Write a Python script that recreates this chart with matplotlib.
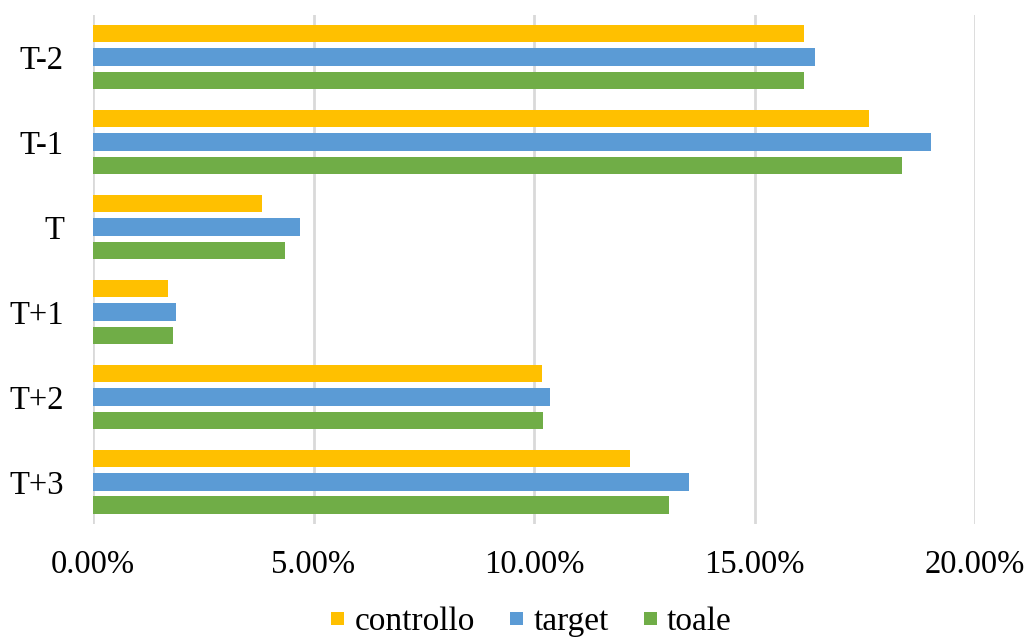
import matplotlib.pyplot as plt
import numpy as np
from matplotlib.ticker import FuncFormatter

# Periodi e valori percentuali per gruppo
periodi = ['T-2', 'T-1', 'T', 'T+1', 'T+2', 'T+3']
controllo = [16.13, 17.59, 3.83, 1.69, 10.18, 12.17]
target = [16.38, 19.01, 4.70, 1.88, 10.36, 13.51]
toale = [16.13, 18.35, 4.35, 1.81, 10.21, 13.07]

plt.rcParams['font.family'] = ['Liberation Serif', 'DejaVu Serif']

fig = plt.figure(figsize=(10.27, 6.37), dpi=100)
ax = fig.add_axes([0.0906, 0.177, 0.8588, 0.800])

y = np.arange(len(periodi))
passo = 0.276
altezza = 0.206

ax.barh(y - passo, controllo, height=altezza, color='#FFC000', label='controllo', zorder=3)
ax.barh(y, target, height=altezza, color='#5B9BD5', label='target', zorder=3)
ax.barh(y + passo, toale, height=altezza, color='#70AD47', label='toale', zorder=3)

ax.set_xlim(0, 20)
ax.set_ylim(len(periodi) - 0.5, -0.5)
ax.set_xticks([0, 5, 10, 15, 20])
ax.xaxis.set_major_formatter(FuncFormatter(lambda v, p: f'{v:.2f}%'))
ax.set_yticks(y)
ax.set_yticklabels(periodi)

# Griglia verticale grigia chiara, senza bordi
ax.grid(axis='x', color='#D9D9D9', linewidth=2, zorder=0)
for s in ax.spines.values():
    s.set_visible(False)
ax.tick_params(axis='both', length=0, labelsize=23.5)
ax.tick_params(axis='x', pad=18)
ax.tick_params(axis='y', pad=21)

# Legenda in basso con quadratini colorati
ax.legend(loc='center', bbox_to_anchor=(0.497, -0.192), ncol=3, frameon=False,
          fontsize=24, handlelength=0.4, handleheight=0.22, handletextpad=0.3,
          columnspacing=1.05)

plt.savefig('out.png', dpi=100)
